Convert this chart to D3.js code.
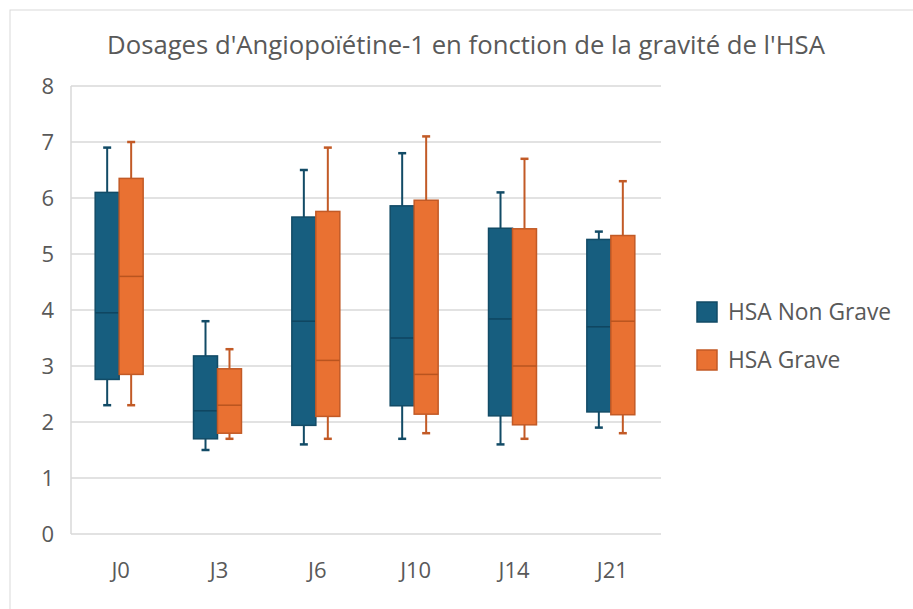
<!DOCTYPE html>
<html>
<head>
<meta charset="utf-8">
<script src="https://cdn.jsdelivr.net/npm/d3@7"></script>
<style>
  body { margin: 0; background: #fff; }
  svg text { font-family: "Open Sans", "Noto Sans", sans-serif; fill: #595959; }
</style>
</head>
<body>
<div id="chart"></div>
<script>
// categories and box stats [min, q1, median, q3, max]
const categories = ["J0", "J3", "J6", "J10", "J14", "J21"];
const seriesNames = ["HSA Non Grave", "HSA Grave"];
const nonGraveMin = [2.3, 1.5, 1.6, 1.7, 1.6, 1.9];
const nonGraveQ1  = [2.76, 1.7, 1.94, 2.29, 2.11, 2.18];
const nonGraveMed = [3.95, 2.2, 3.8, 3.5, 3.84, 3.7];
const nonGraveQ3  = [6.1, 3.18, 5.66, 5.86, 5.46, 5.26];
const nonGraveMax = [6.9, 3.8, 6.5, 6.8, 6.1, 5.4];
const graveMin = [2.3, 1.7, 1.7, 1.8, 1.7, 1.8];
const graveQ1  = [2.85, 1.8, 2.1, 2.14, 1.95, 2.13];
const graveMed = [4.6, 2.3, 3.1, 2.85, 3.0, 3.8];
const graveQ3  = [6.35, 2.95, 5.76, 5.96, 5.45, 5.33];
const graveMax = [7.0, 3.3, 6.9, 7.1, 6.7, 6.3];
const yTicks = [0, 1, 2, 3, 4, 5, 6, 7, 8];

const w = 913, h = 609;
const fills = ["#175e7f", "#e97132"];
const strokes = ["#124b66", "#c25a26"];
const medians = ["#0f4560", "#b9541f"];

const svg = d3.select("#chart").append("svg")
  .attr("width", w).attr("height", h);

// outer frame
svg.append("rect")
  .attr("x", 10).attr("y", 10)
  .attr("width", w + 20).attr("height", h + 20)
  .attr("fill", "none").attr("stroke", "#d9d9d9").attr("stroke-width", 1);

svg.append("text")
  .attr("x", 466).attr("y", 54)
  .attr("text-anchor", "middle")
  .style("font-size", "25.7px")
  .text("Dosages d'Angiopoïétine-1 en fonction de la gravité de l'HSA");

const x0 = d3.scaleBand().domain(categories).range([70, 660]).padding(0);
const x1 = d3.scaleBand().domain(seriesNames).range([0, x0.bandwidth()])
  .paddingInner(0).paddingOuter(1.05);
const y = d3.scaleLinear().domain([0, 8]).range([534, 86]);

// gridlines
svg.append("g").selectAll("line").data(yTicks).enter().append("line")
  .attr("x1", 71).attr("x2", 661)
  .attr("y1", d => y(d)).attr("y2", d => y(d))
  .attr("stroke", "#d9d9d9").attr("stroke-width", 1.5);
svg.append("line")
  .attr("x1", 71).attr("x2", 71).attr("y1", y(8)).attr("y2", y(0))
  .attr("stroke", "#d9d9d9").attr("stroke-width", 1.5);

const yAxis = svg.append("g")
  .attr("transform", "translate(54,0)")
  .call(d3.axisLeft(y).tickValues(yTicks).tickSize(0).tickPadding(0));
yAxis.select(".domain").remove();
yAxis.selectAll("text").style("font-size", "22px").attr("dy", "0.35em");

const xAxis = svg.append("g")
  .attr("transform", "translate(1.5,562)")
  .call(d3.axisBottom(x0).tickSize(0).tickPadding(0));
xAxis.select(".domain").remove();
xAxis.selectAll("text").style("font-size", "22px").attr("dy", "0.71em");

const stats = [
  categories.map((c, i) => ({ c, s: 0, min: nonGraveMin[i], q1: nonGraveQ1[i], med: nonGraveMed[i], q3: nonGraveQ3[i], max: nonGraveMax[i] })),
  categories.map((c, i) => ({ c, s: 1, min: graveMin[i], q1: graveQ1[i], med: graveMed[i], q3: graveQ3[i], max: graveMax[i] }))
];
const all = stats[0].concat(stats[1]);
const bw = x1.bandwidth();
const cx = d => x0(d.c) + x1(seriesNames[d.s]) + bw / 2;

const boxes = svg.append("g").selectAll("g").data(all).enter().append("g");

// whiskers
boxes.append("line")
  .attr("x1", cx).attr("x2", cx)
  .attr("y1", d => y(d.max)).attr("y2", d => y(d.q3))
  .attr("stroke", d => strokes[d.s]).attr("stroke-width", 2);
boxes.append("line")
  .attr("x1", cx).attr("x2", cx)
  .attr("y1", d => y(d.q1)).attr("y2", d => y(d.min))
  .attr("stroke", d => strokes[d.s]).attr("stroke-width", 2);
["max", "min"].forEach(k => {
  boxes.append("line")
    .attr("x1", d => cx(d) - 4).attr("x2", d => cx(d) + 4)
    .attr("y1", d => y(d[k])).attr("y2", d => y(d[k]))
    .attr("stroke", d => strokes[d.s]).attr("stroke-width", 2.5);
});

boxes.append("rect")
  .attr("x", d => x0(d.c) + x1(seriesNames[d.s]))
  .attr("y", d => y(d.q3))
  .attr("width", bw)
  .attr("height", d => y(d.q1) - y(d.q3))
  .attr("fill", d => fills[d.s])
  .attr("stroke", d => strokes[d.s]).attr("stroke-width", 1.5);

boxes.append("line")
  .attr("x1", d => x0(d.c) + x1(seriesNames[d.s]))
  .attr("x2", d => x0(d.c) + x1(seriesNames[d.s]) + bw)
  .attr("y1", d => y(d.med)).attr("y2", d => y(d.med))
  .attr("stroke", d => medians[d.s]).attr("stroke-width", 1.5);

// legend
const legend = svg.append("g").selectAll("g").data(seriesNames).enter().append("g")
  .attr("transform", (d, i) => "translate(697," + (302 + i * 48) + ")");
legend.append("rect")
  .attr("width", 20).attr("height", 20)
  .attr("fill", (d, i) => fills[i])
  .attr("stroke", (d, i) => strokes[i]).attr("stroke-width", 1.5);
legend.append("text")
  .attr("x", 31).attr("y", 10).attr("dy", "0.35em")
  .style("font-size", "22.8px")
  .text(d => d);
</script>
</body>
</html>
